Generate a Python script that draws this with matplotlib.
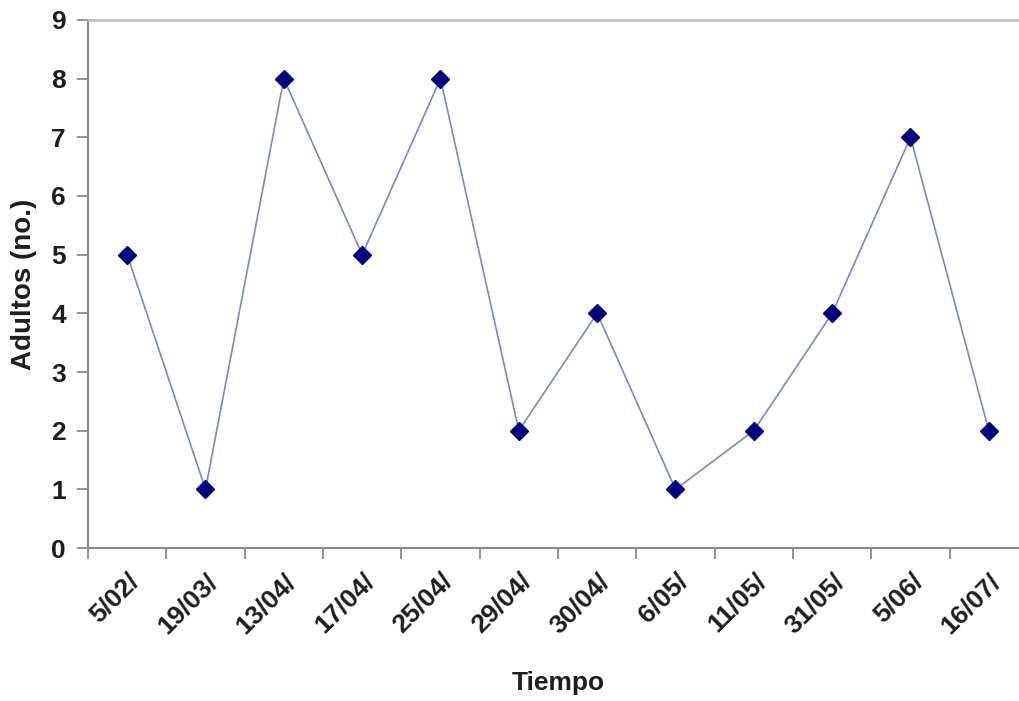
import matplotlib
matplotlib.use("Agg")
import matplotlib.pyplot as plt
import numpy as np

# sampling dates and adult counts
fechas = ["5/02/", "19/03/", "13/04/", "17/04/", "25/04/", "29/04/",
          "30/04/", "6/05/", "11/05/", "31/05/", "5/06/", "16/07/"]
adultos = [5, 1, 8, 5, 8, 2, 4, 1, 2, 4, 7, 2]
y_ticks = list(range(0, 10))

plt.rcParams["font.family"] = ["Liberation Sans", "DejaVu Sans"]
plt.rcParams["font.weight"] = "bold"

fig = plt.figure(figsize=(10.2, 7.01), dpi=100)
ax = fig.add_axes([88 / 1020, 153 / 701, 940 / 1020, 528 / 701])

x = np.arange(len(fechas))
ax.plot(x, adultos, color="#7f86c8", linewidth=1.2, marker="D",
        markersize=9, markerfacecolor="#000080", markeredgecolor="#000080",
        zorder=3)

# category axis: ticks sit between categories, labels under each point
ax.set_xlim(-0.5, len(fechas) - 0.5)
ax.set_xticks(x - 0.5)
ax.set_xticklabels([])
ax.set_xticks(x, minor=True)
ax.set_xticklabels(fechas, minor=True, rotation=45, ha="right",
                   rotation_mode="anchor", fontsize=19, fontweight="bold",
                   color="#1e1e1e")
ax.tick_params(axis="x", which="minor", length=0, pad=15)
ax.tick_params(axis="x", which="major", length=8, width=1.3,
               color="#8a8a8a", direction="out")

ax.set_ylim(0, 9)
ax.set_yticks(y_ticks)
ax.set_yticklabels([str(v) for v in y_ticks], fontsize=19,
                   fontweight="bold", color="#1e1e1e")
ax.tick_params(axis="y", length=8, width=1.3, color="#8a8a8a", pad=8)

for side in ("left", "bottom"):
    ax.spines[side].set_color("#8a8a8a")
    ax.spines[side].set_linewidth(1.5)
ax.spines["top"].set_color("#c0c0c0")
ax.spines["top"].set_linewidth(2.0)
ax.spines["right"].set_visible(False)

ax.set_xlabel("Tiempo", fontsize=19, fontweight="bold", color="#1e1e1e",
              labelpad=24)
ax.set_ylabel("Adultos (no.)", fontsize=20, fontweight="bold",
              color="#1e1e1e", labelpad=10)

fig.savefig("out.png", dpi=100)
